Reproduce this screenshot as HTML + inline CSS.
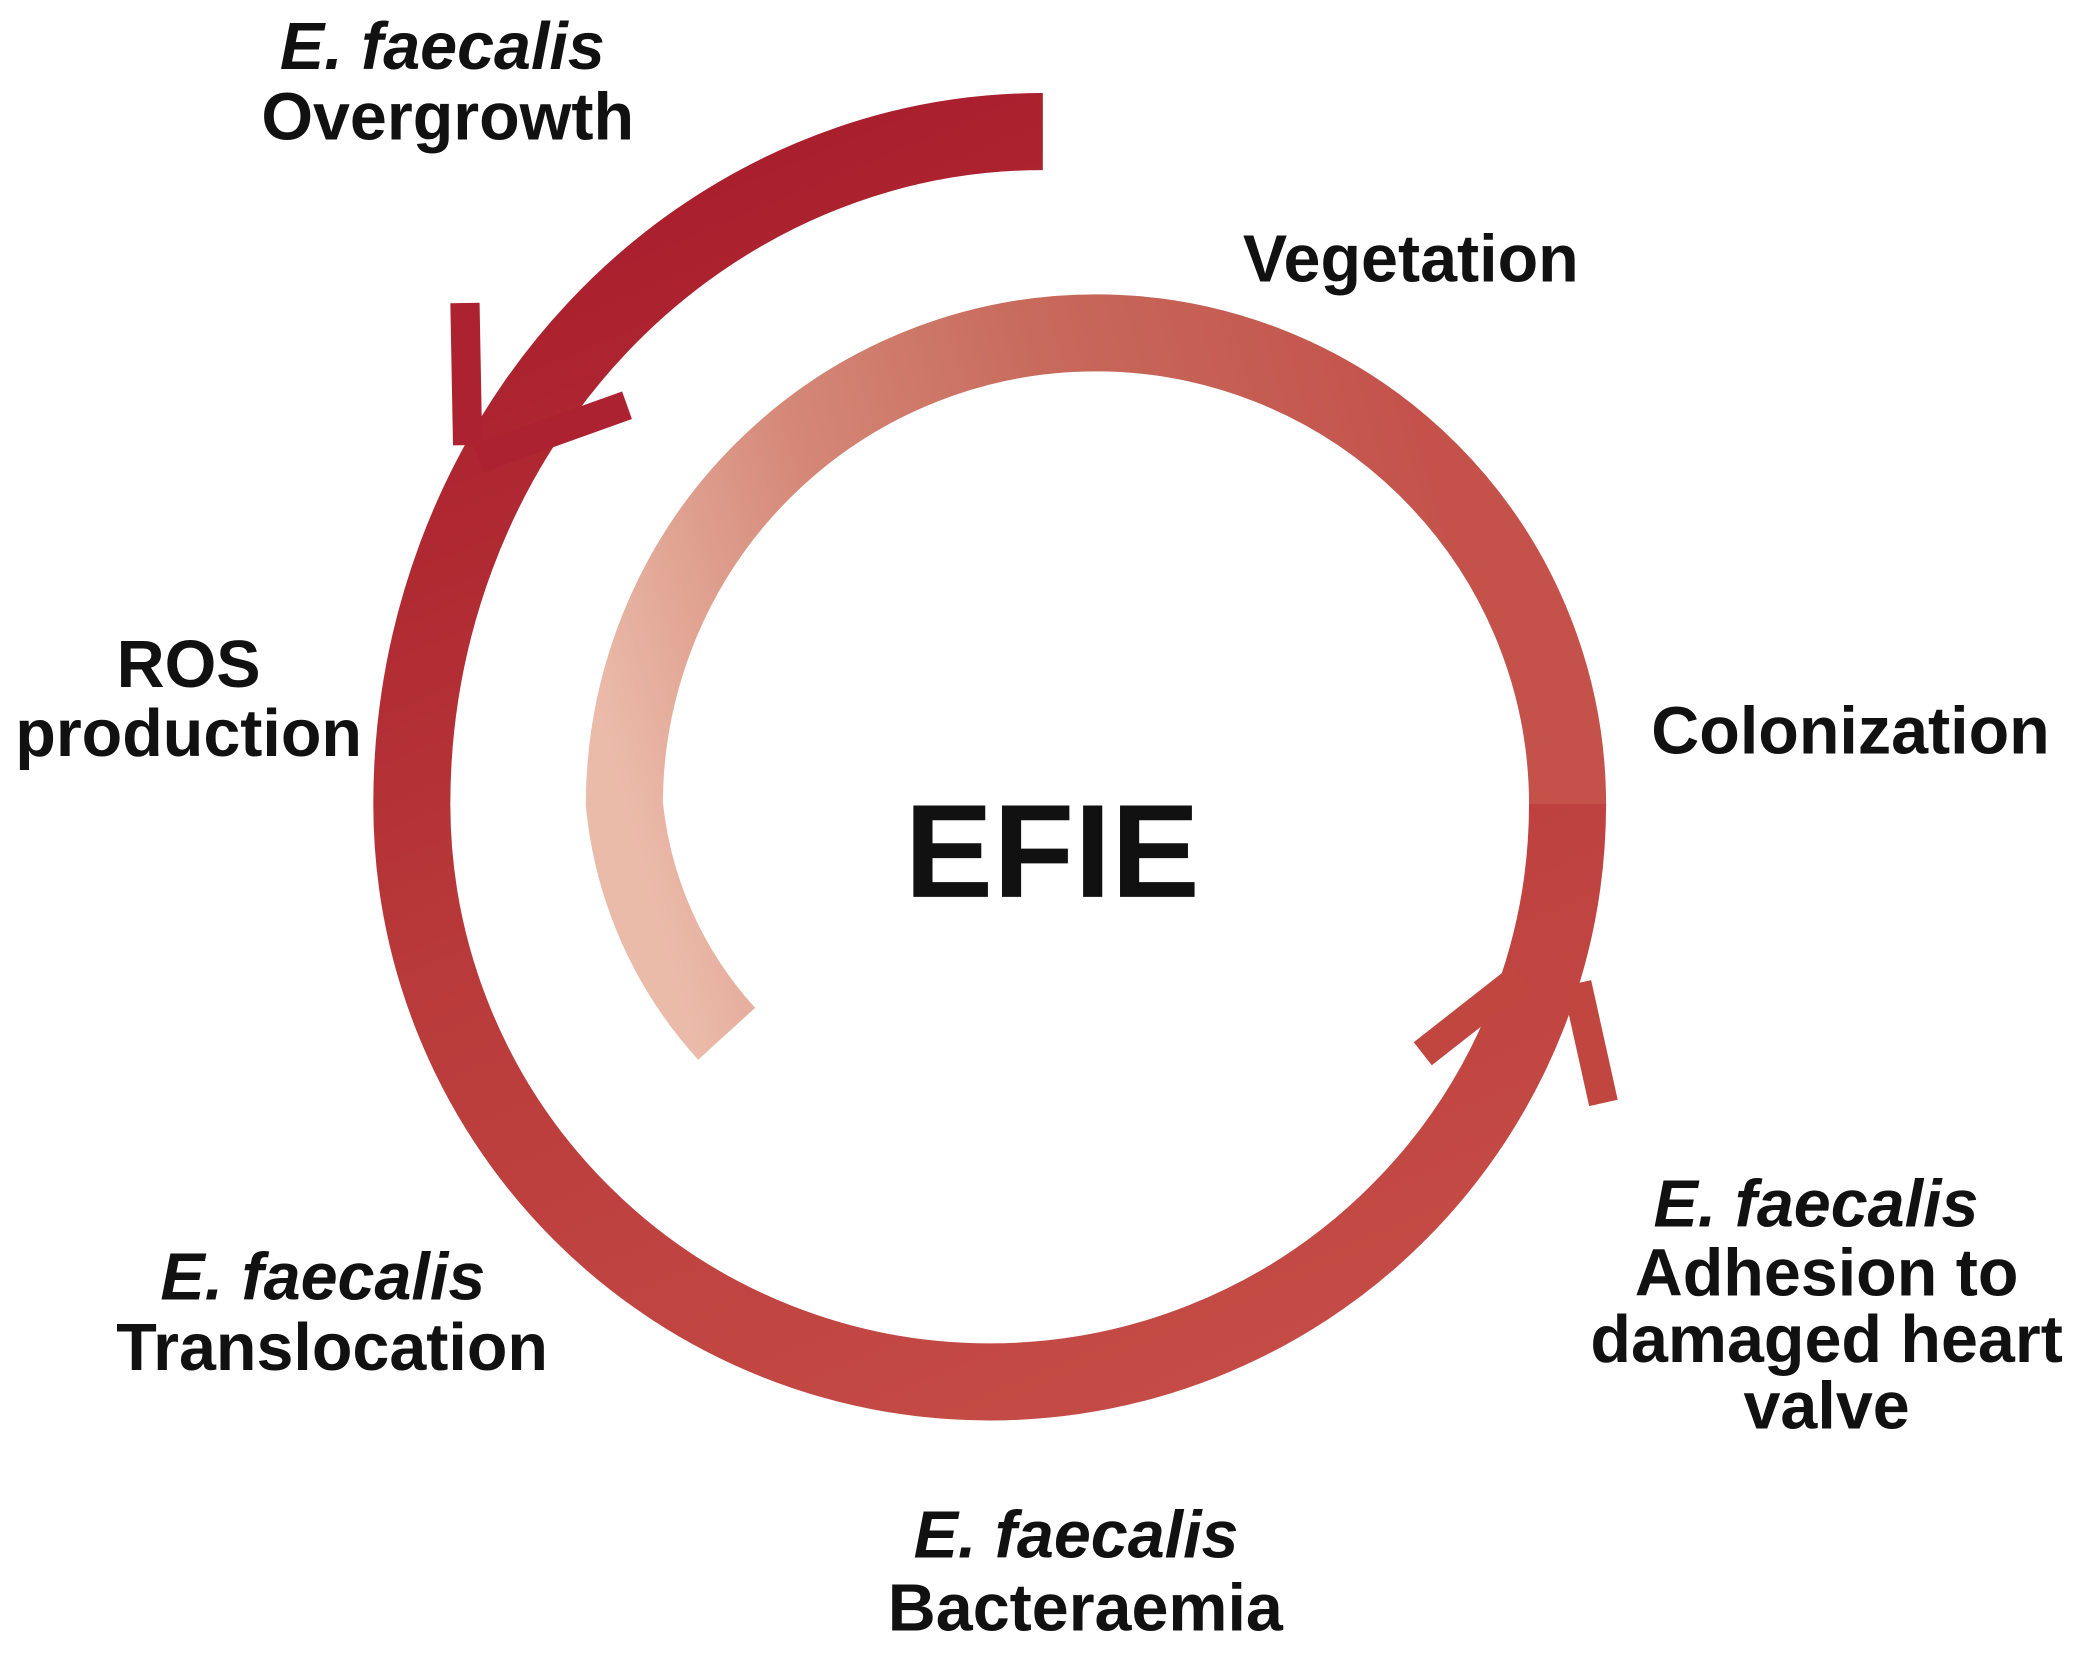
<!DOCTYPE html>
<html><head><meta charset="utf-8"><style>
html,body{margin:0;padding:0;background:#fff;}
svg{display:block;}
text{font-family:"Liberation Sans",sans-serif;font-weight:bold;fill:#111;text-anchor:middle;}
.i{font-style:italic;}
</style></head><body>
<svg width="2083" height="1661" viewBox="0 0 1568 1250" preserveAspectRatio="none">
<defs>
<linearGradient id="og" gradientUnits="userSpaceOnUse" x1="500" y1="100" x2="900" y2="1060">
<stop offset="0" stop-color="#a81c2c"/><stop offset="0.5" stop-color="#b93a3a"/><stop offset="1" stop-color="#c54c46"/>
</linearGradient>
<linearGradient id="ig" gradientUnits="userSpaceOnUse" x1="520" y1="780" x2="1150" y2="600">
<stop offset="0" stop-color="#ebbbaa"/><stop offset="0.3" stop-color="#d58878"/><stop offset="0.6" stop-color="#c76a5c"/><stop offset="1" stop-color="#c4524b"/>
</linearGradient>
</defs>
<path d="M1180,606 A355,355 0 0 0 470,605 A300,300 0 0 0 547,778" fill="none" stroke="url(#ig)" stroke-width="58"/>
<path d="M785,99 A475,506 0 0 0 310,605 A435,435 0 0 0 1180,605" fill="none" stroke="url(#og)" stroke-width="58"/>
<path d="M350,228 L352,335 M472,305 L360,345" fill="none" stroke="#ac2230" stroke-width="22"/>
<path d="M1071,793 L1145,735 M1207,830 L1187,740" fill="none" stroke="#c0463f" stroke-width="22"/>
<g font-size="50">
<text x="333" y="52" class="i">E. faecalis</text>
<text x="337" y="105">Overgrowth</text>
<text x="1062" y="212">Vegetation</text>
<text x="142" y="517">ROS</text>
<text x="142" y="569">production</text>
<text x="1393" y="567">Colonization</text>
<text x="243" y="978" class="i">E. faecalis</text>
<text x="250" y="1031">Translocation</text>
<text x="1367" y="923" class="i">E. faecalis</text>
<text x="1375" y="975">Adhesion to</text>
<text x="1375" y="1025">damaged heart</text>
<text x="1375" y="1075">valve</text>
<text x="810" y="1172" class="i">E. faecalis</text>
<text x="817" y="1227">Bacteraemia</text>
</g>
<text x="792" y="675" font-size="100">EFIE</text>
</svg>
</body></html>
